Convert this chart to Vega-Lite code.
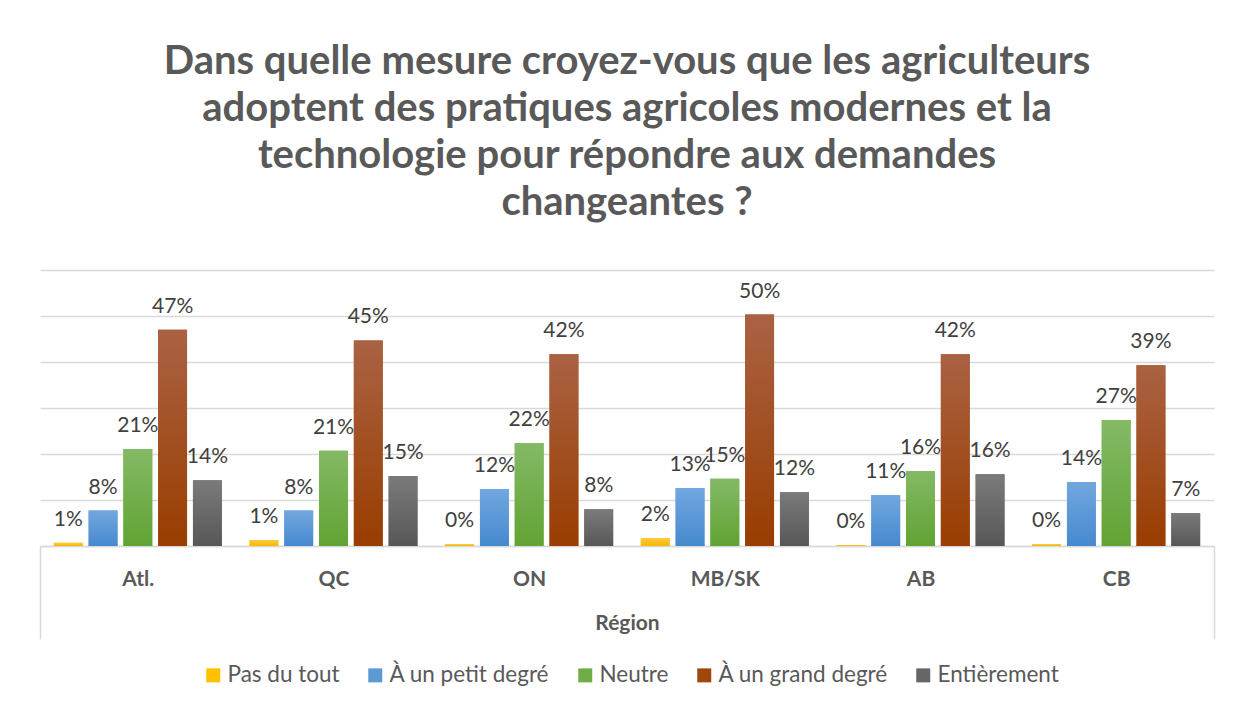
{
  "$schema": "https://vega.github.io/schema/vega-lite/v6.json",
  "width": 1174,
  "height": 276,
  "autosize": "none",
  "padding": {"left": 40, "top": 270, "right": 23, "bottom": 163},
  "background": "white",
  "title": {
    "text": ["Dans quelle mesure croyez-vous que les agriculteurs", "adoptent des pratiques agricoles modernes et la", "technologie pour répondre aux demandes", "changeantes ?"],
    "font": "Lato", "fontSize": 40, "fontWeight": "bold", "color": "#595959",
    "lineHeight": 47, "anchor": "middle", "offset": 47, "frame": "group"
  },
  "data": {"values": [
    {"region": "Atl.", "reponse": "Pas du tout", "part": 0.007},
    {"region": "Atl.", "reponse": "À un petit degré", "part": 0.077},
    {"region": "Atl.", "reponse": "Neutre", "part": 0.211},
    {"region": "Atl.", "reponse": "À un grand degré", "part": 0.47},
    {"region": "Atl.", "reponse": "Entièrement", "part": 0.143},
    {"region": "QC", "reponse": "Pas du tout", "part": 0.013},
    {"region": "QC", "reponse": "À un petit degré", "part": 0.077},
    {"region": "QC", "reponse": "Neutre", "part": 0.207},
    {"region": "QC", "reponse": "À un grand degré", "part": 0.447},
    {"region": "QC", "reponse": "Entièrement", "part": 0.152},
    {"region": "ON", "reponse": "Pas du tout", "part": 0.004},
    {"region": "ON", "reponse": "À un petit degré", "part": 0.124},
    {"region": "ON", "reponse": "Neutre", "part": 0.224},
    {"region": "ON", "reponse": "À un grand degré", "part": 0.417},
    {"region": "ON", "reponse": "Entièrement", "part": 0.08},
    {"region": "MB/SK", "reponse": "Pas du tout", "part": 0.017},
    {"region": "MB/SK", "reponse": "À un petit degré", "part": 0.126},
    {"region": "MB/SK", "reponse": "Neutre", "part": 0.146},
    {"region": "MB/SK", "reponse": "À un grand degré", "part": 0.503},
    {"region": "MB/SK", "reponse": "Entièrement", "part": 0.117},
    {"region": "AB", "reponse": "Pas du tout", "part": 0.002},
    {"region": "AB", "reponse": "À un petit degré", "part": 0.111},
    {"region": "AB", "reponse": "Neutre", "part": 0.163},
    {"region": "AB", "reponse": "À un grand degré", "part": 0.417},
    {"region": "AB", "reponse": "Entièrement", "part": 0.156},
    {"region": "CB", "reponse": "Pas du tout", "part": 0.004},
    {"region": "CB", "reponse": "À un petit degré", "part": 0.139},
    {"region": "CB", "reponse": "Neutre", "part": 0.274},
    {"region": "CB", "reponse": "À un grand degré", "part": 0.393},
    {"region": "CB", "reponse": "Entièrement", "part": 0.072}
  ]},
  "encoding": {
    "x": {
      "field": "region", "type": "nominal", "title": "Région",
      "scale": {"domain": ["Atl.", "QC", "ON", "MB/SK", "AB", "CB"], "paddingInner": 0, "paddingOuter": 0},
      "axis": {
        "labelAngle": 0, "labelFont": "Lato", "labelFontSize": 21, "labelFontWeight": "bold", "labelColor": "#595959",
        "labelPadding": -60, "labelBaseline": "middle",
        "tickSize": 93, "tickBand": "extent", "tickWidth": 1.5,
        "tickColor": {"condition": {"test": "indexof(['Atl.','QC','ON','MB/SK','AB'], datum.value) < 0", "value": "#d9d9d9"}, "value": "rgba(0,0,0,0)"},
        "domainColor": "#d9d9d9", "domainWidth": 1.5,
        "titleFont": "Lato", "titleFontSize": 21, "titleFontWeight": "bold", "titleColor": "#595959",
        "titleY": 77, "titleBaseline": "middle"
      }
    },
    "xOffset": {
      "field": "reponse", "type": "nominal",
      "scale": {"domain": ["Pas du tout", "À un petit degré", "Neutre", "À un grand degré", "Entièrement"], "paddingInner": 0.17, "paddingOuter": 0.398}
    },
    "y": {
      "field": "part", "type": "quantitative",
      "scale": {"domain": [0, 0.6], "nice": false},
      "axis": {"title": null, "labels": false, "ticks": false, "domain": false, "grid": true, "gridColor": "#d9d9d9", "gridWidth": 1.5, "values": [0, 0.1, 0.2, 0.3, 0.4, 0.5, 0.6]}
    }
  },
  "layer": [
    {
      "mark": {"type": "bar"},
      "encoding": {
        "color": {
          "field": "reponse", "type": "nominal",
          "scale": {"domain": ["Pas du tout", "À un petit degré", "Neutre", "À un grand degré", "Entièrement"], "range": ["#FFC000", "#5B9BD5", "#70AD47", "#9E480E", "#666666"]},
          "legend": {"orient": "none", "legendX": 162, "legendY": 394, "direction": "horizontal", "title": null, "symbolType": "square", "symbolSize": 196, "symbolStrokeWidth": 0, "labelFont": "Lato", "labelFontSize": 22.5, "labelColor": "#595959", "labelLimit": 400, "columnPadding": 24, "labelOffset": 3}
        }
      }
    },
    {
      "transform": [{"filter": "datum.reponse === 'Pas du tout'"}],
      "mark": {"type": "bar", "color": {"gradient": "linear", "x1": 0, "y1": 0, "x2": 0, "y2": 1, "stops": [{"offset": 0, "color": "#ffc940"}, {"offset": 1, "color": "#f5b800"}]}}
    },
    {
      "transform": [{"filter": "datum.reponse === 'À un petit degré'"}],
      "mark": {"type": "bar", "color": {"gradient": "linear", "x1": 0, "y1": 0, "x2": 0, "y2": 1, "stops": [{"offset": 0, "color": "#72a7df"}, {"offset": 1, "color": "#4689cf"}]}}
    },
    {
      "transform": [{"filter": "datum.reponse === 'Neutre'"}],
      "mark": {"type": "bar", "color": {"gradient": "linear", "x1": 0, "y1": 0, "x2": 0, "y2": 1, "stops": [{"offset": 0, "color": "#84b965"}, {"offset": 1, "color": "#61a334"}]}}
    },
    {
      "transform": [{"filter": "datum.reponse === 'À un grand degré'"}],
      "mark": {"type": "bar", "color": {"gradient": "linear", "x1": 0, "y1": 0, "x2": 0, "y2": 1, "stops": [{"offset": 0, "color": "#aa6244"}, {"offset": 1, "color": "#993d00"}]}}
    },
    {
      "transform": [{"filter": "datum.reponse === 'Entièrement'"}],
      "mark": {"type": "bar", "color": {"gradient": "linear", "x1": 0, "y1": 0, "x2": 0, "y2": 1, "stops": [{"offset": 0, "color": "#7b7b7b"}, {"offset": 1, "color": "#575757"}]}}
    },
    {
      "mark": {"type": "text", "baseline": "alphabetic", "dy": -17, "font": "Lato", "fontSize": 21, "color": "#404040"},
      "encoding": {"text": {"field": "part", "type": "quantitative", "format": ".0%"}}
    }
  ],
  "config": {"view": {"stroke": null}}
}
